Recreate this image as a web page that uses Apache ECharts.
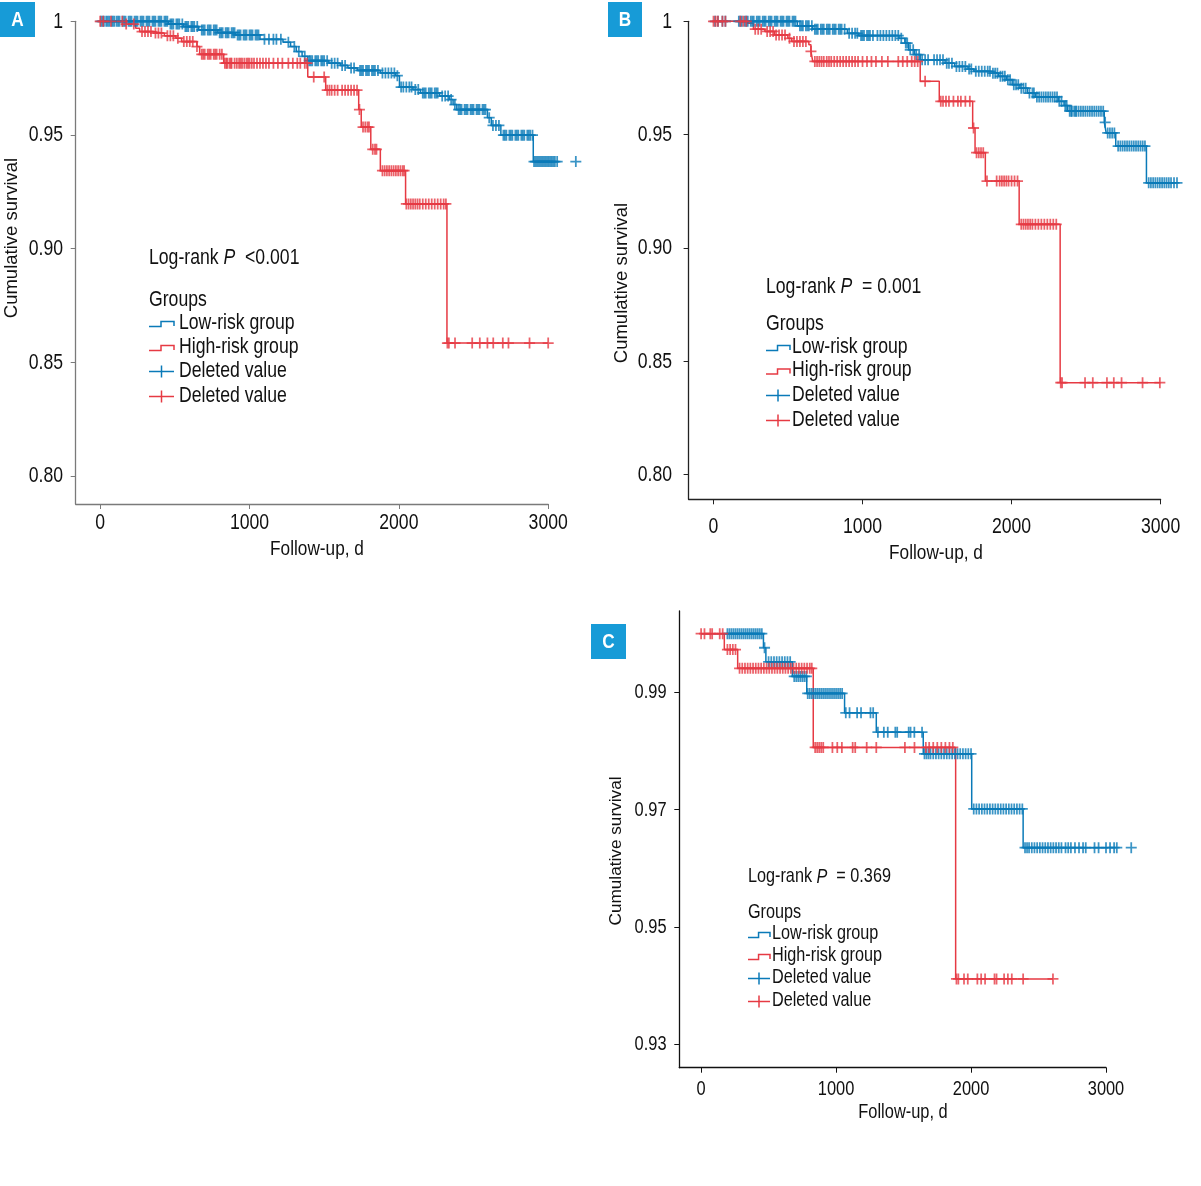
<!DOCTYPE html>
<html>
<head>
<meta charset="utf-8">
<title>Kaplan-Meier survival</title>
<script src="https://cdn.jsdelivr.net/npm/echarts@6/dist/echarts.min.js"></script>
<style>
  html, body { margin: 0; padding: 0; background: #fff; }
  #chart { width: 1201px; height: 1186px; }
</style>
</head>
<body>
<div id="chart"></div>
<script>
// ---- panel A ----
var aLowTimes = [0, 456, 558, 660, 788, 904, 1070, 1224, 1275, 1313, 1352, 1390, 1531, 1608, 1659, 1723, 1876, 1979, 2004, 2094, 2145, 2273, 2337, 2363, 2388, 2593, 2619, 2683, 2900, 3185];
var aLowSurv = [1, 0.9988, 0.9977, 0.9962, 0.9950, 0.9940, 0.9921, 0.9908, 0.9889, 0.9867, 0.9846, 0.9827, 0.9816, 0.9806, 0.9795, 0.9784, 0.9773, 0.9761, 0.9711, 0.9700, 0.9685, 0.9671, 0.9656, 0.9634, 0.9612, 0.9576, 0.9542, 0.9499, 0.9383, 0.9383];
var aLowCens = [5, 15, 25, 40, 50, 60, 75, 85, 95, 110, 120, 130, 150, 160, 170, 190, 200, 210, 230, 240, 250, 270, 280, 290, 310, 320, 330, 350, 360, 370, 390, 400, 410, 430, 440, 450,
  470, 480, 490, 510, 520, 530, 550, 570, 580, 590, 610, 620, 630, 650, 680, 690, 700, 720, 730, 740, 760, 770, 780, 800, 810, 820, 840, 850, 860, 880, 890, 900,
  920, 930, 940, 960, 970, 980, 1000, 1010, 1020, 1040, 1050, 1060, 1100, 1130, 1160, 1180, 1210, 1260, 1300, 1330, 1370,
  1400, 1410, 1420, 1440, 1450, 1460, 1480, 1490, 1500, 1520, 1550, 1570, 1590, 1620, 1640, 1680, 1700, 1740, 1750, 1760, 1780, 1790, 1800, 1820, 1830, 1840, 1860,
  1890, 1910, 1930, 1950, 1970, 1990, 2015, 2030, 2050, 2070, 2085, 2110, 2130, 2160, 2170, 2180, 2200, 2210, 2220, 2240, 2250, 2260,
  2290, 2310, 2330, 2350, 2375, 2400, 2410, 2420, 2440, 2450, 2460, 2480, 2490, 2500, 2520, 2530, 2540, 2560, 2570, 2580, 2605, 2630, 2650, 2670,
  2700, 2710, 2720, 2740, 2750, 2760, 2780, 2790, 2800, 2820, 2830, 2840, 2860, 2870, 2880, 2895,
  2905, 2915, 2925, 2935, 2945, 2955, 2965, 2975, 2985, 2995, 3005, 3015, 3025, 3035, 3045, 3060, 3185];
var aHighTimes = [0, 174, 238, 264, 353, 430, 507, 545, 648, 666, 827, 1390, 1510, 1731, 1748, 1812, 1876, 2045, 2322, 3000];
var aHighSurv = [1, 0.9988, 0.9969, 0.9955, 0.9948, 0.9936, 0.9926, 0.9911, 0.9889, 0.9855, 0.9816, 0.9755, 0.9697, 0.9612, 0.9535, 0.9437, 0.9343, 0.9197, 0.8585, 0.8585];
var aHighCens = [0, 20, 72, 148, 174, 225, 280, 300, 320, 340, 370, 390, 410, 450, 470, 490, 520, 560, 580, 600, 620, 648,
  680, 690, 700, 720, 730, 740, 760, 770, 780, 800, 815,
  835, 845, 850, 865, 875, 880, 900, 915, 930, 940, 950, 965, 980, 990, 1000, 1015, 1030, 1050, 1070, 1090, 1110, 1130, 1160, 1190, 1220, 1260, 1290, 1320, 1340, 1370, 1385,
  1430, 1500, 1520, 1535, 1550, 1570, 1590, 1620, 1640, 1660, 1680, 1700, 1720, 1736, 1760, 1775, 1790, 1800, 1825, 1840, 1850,
  1890, 1905, 1920, 1935, 1950, 1965, 1980, 1995, 2010, 2025, 2035,
  2050, 2065, 2080, 2095, 2110, 2125, 2140, 2160, 2180, 2200, 2220, 2240, 2260, 2280, 2300, 2315,
  2325, 2335, 2376, 2491, 2542, 2593, 2632, 2696, 2734, 2875, 3000];

// ---- panel B ----
var bLowTimes = [0, 563, 666, 898, 975, 1245, 1284, 1310, 1348, 1387, 1554, 1618, 1708, 1747, 1863, 1914, 1966, 2004, 2056, 2107, 2159, 2313, 2352, 2377, 2622, 2635, 2699, 2905, 3110];
var bLowSurv = [1, 0.9980, 0.9965, 0.9947, 0.9937, 0.9925, 0.9904, 0.9874, 0.9853, 0.9830, 0.9815, 0.9801, 0.9789, 0.9779, 0.9771, 0.9757, 0.9742, 0.9720, 0.9705, 0.9683, 0.9666, 0.9647, 0.9628, 0.9603, 0.9554, 0.9507, 0.9449, 0.9287, 0.9287];
var bLowCens = [10, 30, 60, 80, 170, 180, 190, 210, 220, 230, 250, 260, 270, 290, 300, 310, 330, 340, 350, 370, 380, 390, 410, 420, 430, 450, 460, 470, 490, 500, 510, 530, 540, 550,
  580, 590, 600, 620, 630, 640, 660, 680, 690, 700, 720, 730, 740, 760, 770, 780, 800, 810, 820, 840, 850, 860, 880, 910, 930, 950, 965,
  990, 1000, 1010, 1030, 1040, 1050, 1070, 1100, 1120, 1140, 1160, 1180, 1200, 1220, 1240, 1260, 1290, 1300, 1320, 1340, 1360, 1380,
  1400, 1420, 1440, 1480, 1500, 1520, 1540, 1565, 1580, 1600, 1630, 1650, 1670, 1690, 1715, 1730, 1760, 1780, 1800, 1820, 1840, 1855,
  1875, 1890, 1905, 1925, 1940, 1955, 1975, 1990, 2015, 2030, 2045, 2065, 2080, 2095, 2120, 2140, 2150,
  2170, 2185, 2200, 2215, 2230, 2245, 2260, 2275, 2290, 2305, 2320, 2335, 2360, 2370,
  2390, 2400, 2405, 2420, 2430, 2435, 2450, 2465, 2480, 2495, 2510, 2525, 2540, 2555, 2570, 2585, 2600, 2615, 2628, 2645, 2660, 2675, 2690,
  2715, 2730, 2745, 2760, 2775, 2790, 2805, 2820, 2835, 2850, 2865, 2880, 2895,
  2920, 2935, 2950, 2965, 2980, 2995, 3010, 3025, 3040, 3055, 3070, 3090, 3110];
var bHighTimes = [0, 229, 268, 345, 409, 499, 525, 640, 654, 666, 1387, 1515, 1739, 1755, 1824, 2051, 2326, 3000];
var bHighSurv = [1, 0.9991, 0.9965, 0.9955, 0.9940, 0.9925, 0.9911, 0.9896, 0.9867, 0.9823, 0.9735, 0.9647, 0.9529, 0.9420, 0.9295, 0.9104, 0.8405, 0.8405];
var bHighCens = [0, 15, 30, 60, 80, 180, 200, 220, 280, 300, 320, 360, 380, 400, 420, 440, 460, 480, 510, 540, 560, 580, 600, 620, 654,
  680, 695, 710, 725, 740, 760, 775, 790, 810, 830, 850, 870, 890, 910, 930, 950, 970, 1000, 1030, 1060, 1090, 1130, 1170, 1240, 1270, 1300, 1330, 1350, 1370,
  1420, 1525, 1540, 1560, 1580, 1610, 1640, 1660, 1690, 1720, 1745, 1765, 1780, 1795, 1810,
  1835, 1900, 1920, 1935, 1950, 1965, 1980, 2000, 2020, 2040,
  2065, 2080, 2095, 2110, 2125, 2140, 2160, 2180, 2200, 2220, 2240, 2260, 2280, 2300,
  2330, 2339, 2493, 2545, 2640, 2686, 2738, 2879, 2995];

// ---- panel C ----
var cLowTimes = [0, 462, 480, 676, 783, 1063, 1298, 1646, 2005, 2386, 3198];
var cLowSurv = [1, 0.9976, 0.9952, 0.9927, 0.9898, 0.9865, 0.9832, 0.9795, 0.9701, 0.9635, 0.9635];
var cLowCens = [195, 210, 225, 240, 255, 270, 285, 300, 315, 330, 345, 360, 375, 390, 405, 420, 435, 450, 470,
  500, 520, 540, 560, 580, 600, 620, 640, 660, 690, 705, 720, 735, 750, 765, 780,
  790, 805, 820, 835, 850, 865, 880, 895, 910, 925, 940, 955, 970, 985, 1000, 1015, 1030, 1045,
  1072, 1100, 1156, 1185, 1255, 1275, 1310, 1354, 1383, 1439, 1453, 1538, 1552, 1580, 1637,
  1655, 1670, 1685, 1700, 1720, 1740, 1760, 1780, 1800, 1820, 1840, 1860, 1880, 1900, 1920, 1940, 1960, 1980, 2000,
  2020, 2040, 2060, 2080, 2100, 2120, 2140, 2160, 2180, 2200, 2220, 2240, 2260, 2280, 2300, 2320, 2340, 2360, 2380,
  2400, 2415, 2430, 2450, 2470, 2490, 2510, 2530, 2550, 2570, 2590, 2610, 2630, 2650, 2670, 2700, 2720, 2740,
  2770, 2800, 2830, 2850, 2915, 2945, 3000, 3030, 3060, 3080, 3187];
var cHighTimes = [0, 172, 271, 831, 1886, 2607];
var cHighSurv = [1, 0.9973, 0.9941, 0.9806, 0.9411, 0.9411];
var cHighCens = [0, 25, 68, 82, 138, 160, 195, 215, 235, 255,
  285, 305, 325, 345, 365, 385, 405, 425, 445, 465, 485, 505, 525, 545, 565, 585, 605, 625, 645, 665, 685, 705, 725, 745, 765, 785, 805, 820,
  845, 860, 875, 890, 905, 973, 1009, 1043, 1123, 1142, 1227, 1298, 1510, 1581, 1665, 1690, 1720, 1750, 1780, 1810, 1840, 1865,
  1892, 1906, 1948, 1976, 2047, 2075, 2104, 2174, 2189, 2245, 2273, 2302, 2386, 2607];

var xTicks = [0, 1000, 2000, 3000];
var yTicksAB = [0.80, 0.85, 0.90, 0.95, 1];
var yTicksC = [0.93, 0.95, 0.97, 0.99];
var pLabels = ['<0.001', '= 0.001', '= 0.369'];

var BLUE = '#0a7ab8', RED = '#e63a43', BOX = '#179bd7', INK = '#111';
// no narrow face is installed: Liberation Sans squeezed horizontally stands in for it
var SANS = "'Liberation Sans', Arial, sans-serif";
var SQ = 0.82;
var PLUS = 'path://M0,8.4h20v3.2H0zM8.4,0h3.2v20H8.4z';

function stepData(times, surv) {
    return times.map(function (t, i) { return [t, surv[i]]; });
}
function survAt(times, surv, t) {
    var s = surv[0];
    for (var i = 0; i < times.length; i++) {
        if (times[i] <= t) s = surv[i];
    }
    return s;
}
function censData(times, surv, cens) {
    return cens.map(function (t) { return [t, survAt(times, surv, t)]; });
}

function lineSeries(idx, color, times, surv) {
    return {
        type: 'line', xAxisIndex: idx, yAxisIndex: idx, step: 'end',
        data: stepData(times, surv), showSymbol: false, clip: false,
        lineStyle: { color: color, width: 1.5 }, silent: true, z: 2
    };
}
function censSeries(idx, color, times, surv, cens) {
    return {
        type: 'scatter', xAxisIndex: idx, yAxisIndex: idx, clip: false,
        data: censData(times, surv, cens), symbol: PLUS, symbolSize: 11,
        itemStyle: { color: color }, silent: true, z: 3
    };
}

var panels = [
    { grid: { left: 75.7, top: 21.3, width: 472.5, height: 482.7 }, ymin: 0.7877, ymax: 1, xmin: -164, yTicks: yTicksAB, axisColor: '#7a7a7a', fs: 21.5, yRight: 63, xMid: 523.5 },
    { grid: { left: 688.6, top: 21.3, width: 472, height: 478 }, ymin: 0.789, ymax: 1, xmin: -167, yTicks: yTicksAB, axisColor: '#222', fs: 21.5, yRight: 672, xMid: 527.5 },
    { grid: { left: 679.3, top: 611, width: 426.7, height: 456.7 }, ymin: 0.92596, ymax: 1.00387, xmin: -161.5, yTicks: yTicksC, axisColor: '#111', fs: 20, yRight: 666.5, xMid: 1089.5 }
];

var grids = [], xAxes = [], yAxes = [];
panels.forEach(function (p, i) {
    grids.push(p.grid);
    xAxes.push({
        type: 'value', gridIndex: i, min: p.xmin, max: 3000,
        axisLine: { show: true, onZero: false, lineStyle: { color: p.axisColor, width: 1.3 } },
        axisTick: { show: true, length: 5, customValues: xTicks, lineStyle: { color: p.axisColor } },
        axisLabel: { show: false },
        splitLine: { show: false }
    });
    yAxes.push({
        type: 'value', gridIndex: i, min: p.ymin, max: p.ymax,
        axisLine: { show: true, onZero: false, lineStyle: { color: p.axisColor, width: 1.3 } },
        axisTick: { show: true, length: 5, customValues: p.yTicks, lineStyle: { color: p.axisColor } },
        axisLabel: { show: false },
        splitLine: { show: false }
    });
});

var series = [
    lineSeries(0, BLUE, aLowTimes, aLowSurv), censSeries(0, BLUE, aLowTimes, aLowSurv, aLowCens),
    lineSeries(0, RED, aHighTimes, aHighSurv), censSeries(0, RED, aHighTimes, aHighSurv, aHighCens),
    lineSeries(1, BLUE, bLowTimes, bLowSurv), censSeries(1, BLUE, bLowTimes, bLowSurv, bLowCens),
    lineSeries(1, RED, bHighTimes, bHighSurv), censSeries(1, RED, bHighTimes, bHighSurv, bHighCens),
    lineSeries(2, BLUE, cLowTimes, cLowSurv), censSeries(2, BLUE, cLowTimes, cLowSurv, cLowCens),
    lineSeries(2, RED, cHighTimes, cHighSurv), censSeries(2, RED, cHighTimes, cHighSurv, cHighCens)
];

var chart = echarts.init(document.getElementById('chart'), null, { renderer: 'canvas' });
chart.setOption({
    animation: false,
    backgroundColor: '#fff',
    grid: grids,
    xAxis: xAxes,
    yAxis: yAxes,
    series: series
});

// ---- annotations: tick labels, panel letters, axis titles, legends ----
var graphic = [];
function txt(x, y, text, size, align, vAlign) {
    graphic.push({
        type: 'text', x: x, y: y, scaleX: SQ,
        style: { text: text, fill: INK, font: size + 'px ' + SANS, align: align, verticalAlign: vAlign }
    });
}

// tick labels placed through the axes' own scales
panels.forEach(function (p, i) {
    xTicks.forEach(function (v) {
        var pt = chart.convertToPixel({ gridIndex: i }, [v, p.ymin]);
        txt(pt[0], p.xMid, String(v), p.fs, 'center', 'middle');
    });
    p.yTicks.forEach(function (v) {
        var pt = chart.convertToPixel({ gridIndex: i }, [0, v]);
        txt(p.yRight, pt[1] + 0.5, v === 1 ? '1' : v.toFixed(2), p.fs, 'right', 'middle');
    });
});

function letterBox(x, y, w, h, letter) {
    graphic.push({ type: 'rect', shape: { x: x, y: y, width: w, height: h }, style: { fill: BOX } });
    graphic.push({
        type: 'text', x: x + w / 2, y: y + h / 2 + 1, scaleX: SQ,
        style: { text: letter, fill: '#fff', font: 'bold 21px ' + SANS, align: 'center', verticalAlign: 'middle' }
    });
}
letterBox(0, 2, 35, 35, 'A');
letterBox(608, 2, 34, 35, 'B');
letterBox(591, 624, 35, 35, 'C');

function yTitle(x, y, size) {
    graphic.push({
        type: 'text', x: x, y: y, rotation: Math.PI / 2,
        style: { text: 'Cumulative survival', fill: INK, font: size + 'px ' + SANS, align: 'center', verticalAlign: 'middle' }
    });
}
yTitle(12, 238, 18.5); txt(317, 549, 'Follow-up, d', 21, 'center', 'middle');
yTitle(622, 283, 18.5); txt(936, 553, 'Follow-up, d', 21, 'center', 'middle');
yTitle(616, 851, 17.2); txt(903, 1112.5, 'Follow-up, d', 20, 'center', 'middle');

function legend(x, tx, yP, yG, rows, pText, fs, iw) {
    graphic.push({
        type: 'text', x: x, y: yP, scaleX: SQ,
        style: {
            text: '{n|Log-rank }{i|P}{n|  ' + pText + '}', verticalAlign: 'middle',
            rich: {
                n: { fontSize: fs, fontFamily: SANS, fill: INK, color: INK },
                i: { fontSize: fs, fontFamily: SANS, fontStyle: 'italic', fill: INK, color: INK }
            }
        }
    });
    txt(x, yG, 'Groups', fs, 'left', 'middle');
    var names = ['Low-risk group', 'High-risk group', 'Deleted value', 'Deleted value'];
    var cols = [BLUE, RED, BLUE, RED];
    names.forEach(function (n, i) {
        var yc = rows[i];
        if (i < 2) {
            graphic.push({
                type: 'polyline',
                shape: { points: [[x, yc + 3.5], [x + iw * 0.48, yc + 3.5], [x + iw * 0.48, yc - 1.5], [x + iw, yc - 1.5], [x + iw, yc + 3]] },
                style: { stroke: cols[i], lineWidth: 1.5, fill: null }
            });
        } else {
            graphic.push({ type: 'line', shape: { x1: x, y1: yc + 0.5, x2: x + iw, y2: yc + 0.5 }, style: { stroke: cols[i], lineWidth: 1.5 } });
            graphic.push({ type: 'line', shape: { x1: x + iw / 2, y1: yc - 5.5, x2: x + iw / 2, y2: yc + 6.5 }, style: { stroke: cols[i], lineWidth: 1.5 } });
        }
        txt(tx, yc, n, fs, 'left', 'middle');
    });
}
legend(149, 179, 258, 300, [323, 347, 371, 396], pLabels[0], 21.5, 25);
legend(766, 792, 287, 324, [347, 370.5, 395, 420], pLabels[1], 21.5, 24);
legend(748, 772, 877, 913, [934, 956, 978, 1001], pLabels[2], 19.8, 22);

chart.setOption({ graphic: graphic });
</script>
</body>
</html>
